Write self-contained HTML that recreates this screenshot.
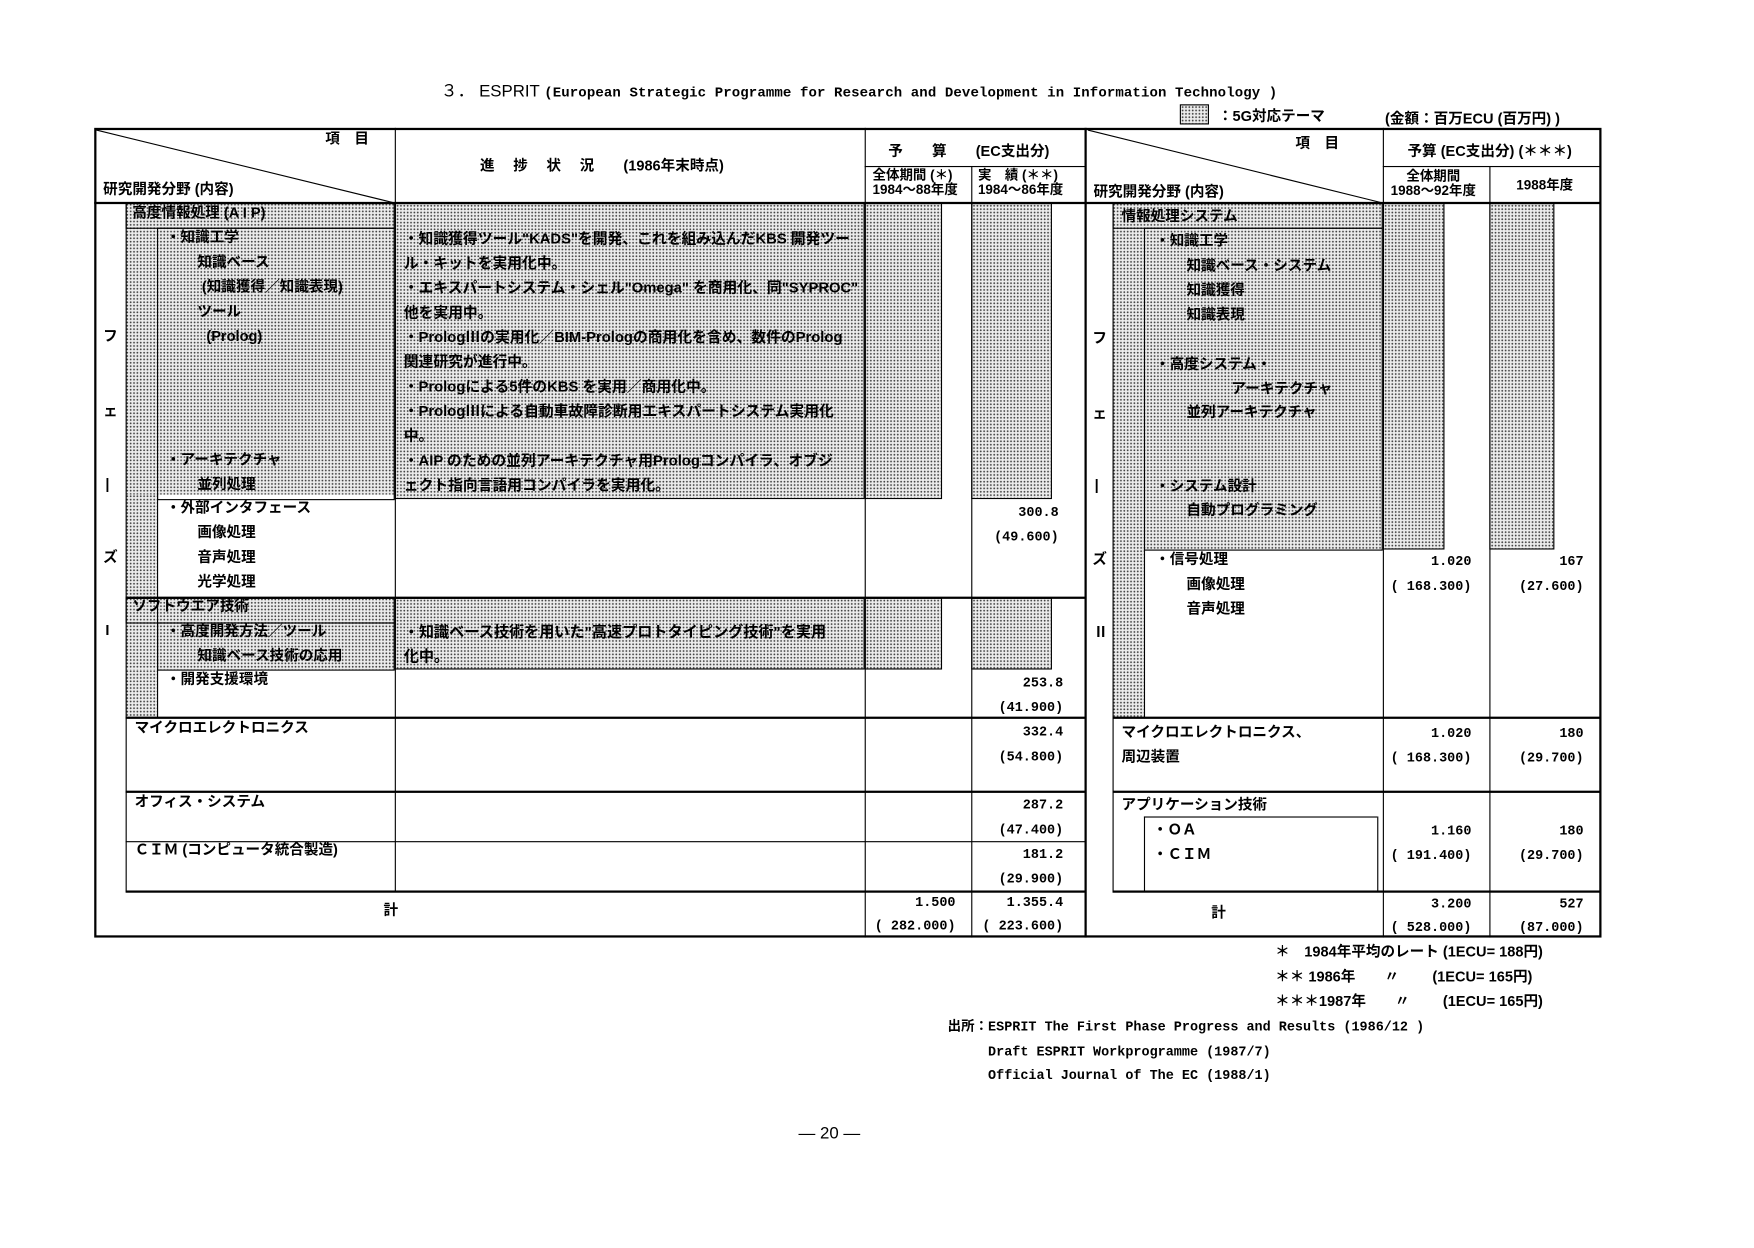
<!DOCTYPE html>
<html><head><meta charset="utf-8">
<style>
html,body{margin:0;padding:0;background:#fff;}
#wrap{position:relative;width:1754px;height:1248px;overflow:hidden;background:#fff;}
#c{position:absolute;left:0;top:0;width:1560px;height:1110px;transform:scale(1.1215);transform-origin:0 0;font-family:"Liberation Sans","Noto Sans CJK JP",sans-serif;color:#000;}
.t{position:absolute;font-size:13px;line-height:16px;white-space:nowrap;font-weight:bold;}
.n{font-family:"Liberation Mono","Noto Sans CJK JP",monospace;font-size:12px;}
.r{text-align:right;}
.h{position:absolute;height:1px;background:#000;}
.v{position:absolute;width:1px;background:#000;}
.s{position:absolute;background:radial-gradient(circle,#444 0.6px,transparent 1px) 0 0/3px 3px,#ececec;}
.b{border:1px solid #000;box-sizing:border-box;}
</style></head><body><div id="wrap"><div id="c">

<div class="t" style="left:393px;top:74px;font-size:15px;font-weight:normal;">３． ESPRIT <span style="font-size:12.5px;font-family:'Liberation Mono',monospace;font-weight:bold;letter-spacing:0.1px">(European Strategic Programme for Research and Development in Information Technology )</span></div>
<div class="s b" style="left:1052px;top:93px;width:26px;height:18px;"></div>
<div class="t" style="left:1086px;top:96px;">：5G対応テーマ</div>
<div class="t" style="left:1235px;top:98px;">(金額：百万ECU (百万円) )</div>

<div class="s" style="left:112px;top:181px;width:240px;height:260px;"></div>
<div class="s" style="left:112px;top:441px;width:28px;height:199px;"></div>
<div class="s b" style="left:352px;top:181px;width:419px;height:264px;"></div>
<div class="s b" style="left:771px;top:181px;width:69px;height:264px;"></div>
<div class="s b" style="left:866px;top:181px;width:72px;height:264px;"></div>
<div class="s" style="left:112px;top:533px;width:240px;height:64px;"></div>
<div class="s b" style="left:352px;top:533px;width:419px;height:64px;"></div>
<div class="s b" style="left:771px;top:533px;width:69px;height:64px;"></div>
<div class="s b" style="left:866px;top:533px;width:72px;height:64px;"></div>
<div class="b" style="position:absolute;left:112px;top:181px;width:240px;height:23px;"></div>
<div class="b" style="position:absolute;left:140px;top:203px;width:212px;height:243px;"></div>
<div class="b" style="position:absolute;left:112px;top:533px;width:240px;height:23px;"></div>
<div class="b" style="position:absolute;left:140px;top:555px;width:212px;height:43px;"></div>
<div class="v" style="left:140px;top:441px;height:199px;"></div>

<div class="s" style="left:992px;top:181px;width:241px;height:309px;"></div>
<div class="s" style="left:992px;top:490px;width:28px;height:150px;"></div>
<div class="b" style="position:absolute;left:992px;top:181px;width:241px;height:23px;"></div>
<div class="b" style="position:absolute;left:1020px;top:203px;width:213px;height:288px;"></div>
<div class="v" style="left:1020px;top:490px;height:150px;"></div>
<div class="s b" style="left:1233px;top:181px;width:55px;height:309px;"></div>
<div class="s b" style="left:1328px;top:181px;width:58px;height:309px;"></div>

<div class="b" style="position:absolute;left:84px;top:114px;width:1344px;height:722px;border-width:2px;"></div>
<div class="h" style="left:84px;top:180px;width:1344px;height:2px;"></div>
<div class="v" style="left:967px;top:114px;height:722px;width:2px;"></div>
<div class="v" style="left:352px;top:114px;height:681px;"></div>
<div class="v" style="left:771px;top:114px;height:722px;"></div>
<div class="v" style="left:866px;top:148px;height:688px;"></div>
<div class="h" style="left:771px;top:148px;width:197px;"></div>
<svg style="position:absolute;left:0;top:0" width="1560" height="1110"><line x1="86" y1="116" x2="352" y2="181" stroke="#000" stroke-width="1"/><line x1="970" y1="116" x2="1233" y2="181" stroke="#000" stroke-width="1"/></svg>
<div class="v" style="left:112px;top:181px;height:614px;"></div>
<div class="h" style="left:112px;top:532px;width:856px;height:2px;"></div>
<div class="h" style="left:112px;top:639px;width:856px;height:2px;"></div>
<div class="h" style="left:112px;top:705px;width:856px;height:2px;"></div>
<div class="h" style="left:112px;top:750px;width:856px;"></div>
<div class="h" style="left:112px;top:794px;width:856px;height:2px;"></div>
<div class="v" style="left:1233px;top:114px;height:722px;"></div>
<div class="v" style="left:1328px;top:148px;height:688px;"></div>
<div class="h" style="left:1233px;top:148px;width:195px;"></div>
<div class="v" style="left:992px;top:181px;height:614px;"></div>
<div class="h" style="left:992px;top:639px;width:436px;height:2px;"></div>
<div class="h" style="left:992px;top:705px;width:436px;height:2px;"></div>
<div class="h" style="left:1020px;top:728px;width:208px;"></div>
<div class="v" style="left:1020px;top:728px;height:67px;"></div>
<div class="v" style="left:1228px;top:728px;height:67px;"></div>
<div class="h" style="left:992px;top:794px;width:436px;height:2px;"></div>

<div class="t" style="left:290px;top:116px;">項　目</div>
<div class="t" style="left:92px;top:161px;">研究開発分野 (内容)</div>
<div class="t" style="left:428px;top:140px;">進　 捗　 状　 況　　(1986年末時点)</div>
<div class="t" style="left:792px;top:127px;">予　　算　　(EC支出分)</div>
<div class="t" style="left:778px;top:150px;font-size:12px;line-height:13px;">全体期間 (＊)<br>1984〜88年度</div>
<div class="t" style="left:872px;top:150px;font-size:12px;line-height:13px;">実　績 (＊＊)<br>1984〜86年度</div>

<div class="t" style="left:92px;top:292px;">フ</div>
<div class="t" style="left:92px;top:359px;">ェ</div>
<div class="t" style="left:94px;top:424px;">|</div>
<div class="t" style="left:92px;top:489px;">ズ</div>
<div class="t" style="left:94px;top:554px;">I</div>

<div class="t" style="left:118px;top:182px;">高度情報処理 (A I P)</div>
<div class="t" style="left:148px;top:204px;">・知識工学</div>
<div class="t" style="left:176px;top:226px;">知識ベース</div>
<div class="t" style="left:180px;top:248px;">(知識獲得／知識表現)</div>
<div class="t" style="left:176px;top:270px;">ツール</div>
<div class="t" style="left:184px;top:292px;">(Prolog)</div>
<div class="t" style="left:148px;top:402px;">・アーキテクチャ</div>
<div class="t" style="left:176px;top:424px;">並列処理</div>
<div class="t" style="left:148px;top:445px;">・外部インタフェース</div>
<div class="t" style="left:176px;top:467px;">画像処理</div>
<div class="t" style="left:176px;top:489px;">音声処理</div>
<div class="t" style="left:176px;top:511px;">光学処理</div>
<div class="t" style="left:118px;top:533px;">ソフトウエア技術</div>
<div class="t" style="left:148px;top:555px;">・高度開発方法／ツール</div>
<div class="t" style="left:176px;top:577px;">知識ベース技術の応用</div>
<div class="t" style="left:148px;top:598px;">・開発支援環境</div>
<div class="t" style="left:120px;top:641px;">マイクロエレクトロニクス</div>
<div class="t" style="left:120px;top:707px;">オフィス・システム</div>
<div class="t" style="left:120px;top:750px;">ＣＩＭ (コンピュータ統合製造)</div>
<div class="t" style="left:342px;top:804px;">計</div>

<div class="t" style="left:360px;top:202px;line-height:22px;font-size:13.2px;">・知識獲得ツール"KADS"を開発、これを組み込んだKBS 開発ツー<br>ル・キットを実用化中。<br>・エキスパートシステム・シェル"Omega" を商用化、同"SYPROC"<br>他を実用中。<br>・PrologⅢの実用化／BIM-Prologの商用化を含め、数件のProlog<br>関連研究が進行中。<br>・Prologによる5件のKBS を実用／商用化中。<br>・PrologⅢによる自動車故障診断用エキスパートシステム実用化<br>中。<br>・AIP のための並列アーキテクチャ用Prologコンパイラ、オブジ<br>ェクト指向言語用コンパイラを実用化。</div>
<div class="t" style="left:360px;top:553px;line-height:22px;font-size:13.5px;">・知識ベース技術を用いた"高速プロトタイピング技術"を実用<br>化中。</div>

<div class="t n r" style="left:870px;width:74px;top:446px;line-height:22px;">300.8<br>(49.600)</div>
<div class="t n r" style="left:870px;width:78px;top:598px;line-height:22px;">253.8<br>(41.900)</div>
<div class="t n r" style="left:870px;width:78px;top:642px;line-height:22px;">332.4<br>(54.800)</div>
<div class="t n r" style="left:870px;width:78px;top:707px;line-height:22px;">287.2<br>(47.400)</div>
<div class="t n r" style="left:870px;width:78px;top:751px;line-height:22px;">181.2<br>(29.900)</div>
<div class="t n r" style="left:776px;width:76px;top:795px;line-height:21px;">1.500<br>( 282.000)</div>
<div class="t n r" style="left:870px;width:78px;top:795px;line-height:21px;">1.355.4<br>( 223.600)</div>

<div class="t" style="left:1155px;top:120px;">項　目</div>
<div class="t" style="left:975px;top:163px;">研究開発分野 (内容)</div>
<div class="t" style="left:1255px;top:127px;">予算 (EC支出分) (＊＊＊)</div>
<div class="t" style="left:1240px;top:151px;font-size:12px;line-height:13px;text-align:center;">全体期間<br>1988〜92年度</div>
<div class="t" style="left:1352px;top:157px;font-size:12px;">1988年度</div>

<div class="t" style="left:974px;top:294px;">フ</div>
<div class="t" style="left:974px;top:361px;">ェ</div>
<div class="t" style="left:976px;top:425px;">|</div>
<div class="t" style="left:974px;top:491px;">ズ</div>
<div class="t" style="left:975px;top:556px;">Ⅱ</div>

<div class="t" style="left:1000px;top:185px;">情報処理システム</div>
<div class="t" style="left:1030px;top:207px;">・知識工学</div>
<div class="t" style="left:1058px;top:229px;">知識ベース・システム</div>
<div class="t" style="left:1058px;top:251px;">知識獲得</div>
<div class="t" style="left:1058px;top:273px;">知識表現</div>
<div class="t" style="left:1030px;top:317px;">・高度システム・</div>
<div class="t" style="left:1098px;top:339px;">アーキテクチャ</div>
<div class="t" style="left:1058px;top:360px;">並列アーキテクチャ</div>
<div class="t" style="left:1030px;top:426px;">・システム設計</div>
<div class="t" style="left:1058px;top:447px;">自動プログラミング</div>
<div class="t" style="left:1030px;top:491px;">・信号処理</div>
<div class="t" style="left:1058px;top:513px;">画像処理</div>
<div class="t" style="left:1058px;top:535px;">音声処理</div>
<div class="t" style="left:1000px;top:645px;">マイクロエレクトロニクス、</div>
<div class="t" style="left:1000px;top:667px;">周辺装置</div>
<div class="t" style="left:1000px;top:710px;">アプリケーション技術</div>
<div class="t" style="left:1028px;top:732px;">・ＯＡ</div>
<div class="t" style="left:1028px;top:754px;">・ＣＩＭ</div>
<div class="t" style="left:1080px;top:806px;">計</div>

<div class="t n r" style="left:1236px;width:76px;top:490px;line-height:22px;">1.020<br>( 168.300)</div>
<div class="t n r" style="left:1332px;width:80px;top:490px;line-height:22px;">167<br>(27.600)</div>
<div class="t n r" style="left:1236px;width:76px;top:643px;line-height:22px;">1.020<br>( 168.300)</div>
<div class="t n r" style="left:1332px;width:80px;top:643px;line-height:22px;">180<br>(29.700)</div>
<div class="t n r" style="left:1236px;width:76px;top:730px;line-height:22px;">1.160<br>( 191.400)</div>
<div class="t n r" style="left:1332px;width:80px;top:730px;line-height:22px;">180<br>(29.700)</div>
<div class="t n r" style="left:1236px;width:76px;top:796px;line-height:21px;">3.200<br>( 528.000)</div>
<div class="t n r" style="left:1332px;width:80px;top:796px;line-height:21px;">527<br>(87.000)</div>

<div class="t" style="left:1137px;top:841px;">＊　1984年平均のレート (1ECU= 188円)</div>
<div class="t" style="left:1137px;top:863px;">＊＊ 1986年　　〃　　 (1ECU= 165円)</div>
<div class="t" style="left:1137px;top:885px;">＊＊＊1987年　　〃　　 (1ECU= 165円)</div>
<div class="t n" style="left:845px;top:906px;line-height:21.5px;">出所：ESPRIT The First Phase Progress and Results  (1986/12 )<br>　　　Draft ESPRIT Workprogramme (1987/7)<br>　　　Official Journal of The EC   (1988/1)</div>
<div class="t" style="left:712px;top:1003px;font-size:15px;font-weight:normal;">— 20 —</div>

</div></div></body></html>
